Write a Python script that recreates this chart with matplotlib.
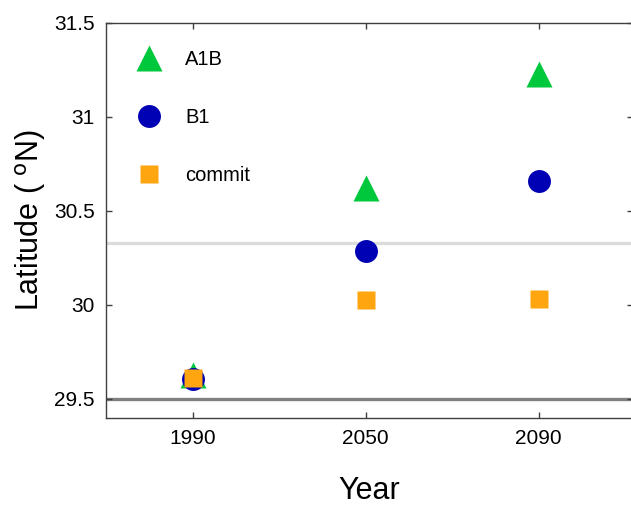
import matplotlib
matplotlib.use("Agg")
import matplotlib.pyplot as plt

plt.rcParams['font.family'] = ['Liberation Sans', 'DejaVu Sans']

years = ["1990", "2050", "2090"]
a1b = [29.625, 30.62, 31.228]
b1 = [29.607, 30.287, 30.66]
commit = [29.608, 30.027, 30.03]
ref_dark = 29.5
ref_light = 30.33

fig = plt.figure(figsize=(6.31, 5.07), dpi=100)
ax = fig.add_axes([0.1675, 0.1761, 0.8357, 0.7791])

x = list(range(1, len(years) + 1))

ax.axhline(ref_dark, color='#808080', lw=2.4, zorder=1)
ax.axhline(ref_light, color='#dcdcdc', lw=2.4, zorder=1, xmin=0.004)

ax.plot(x, a1b, ls='none', marker='^', ms=19, color='#00c83c', mec='none', label='A1B', zorder=3)
ax.plot(x, b1, ls='none', marker='o', ms=16.5, color='#0000b4', mec='none', label='B1', zorder=4)
ax.plot(x, commit, ls='none', marker='s', ms=13.5, color='#ffa510', mec='none', label='commit', zorder=5)

ax.set_xlim(0.497, 3.545)
ax.set_ylim(29.399, 31.5)
ax.set_xticks(x)
ax.set_xticklabels(years)
ax.set_yticks([29.5, 30, 30.5, 31, 31.5])
ax.set_yticklabels(['29.5', '30', '30.5', '31', '31.5'])

ax.tick_params(direction='in', length=4, width=1, color='#404040', labelsize=15,
               top=True, right=True, pad=8)
for s in ax.spines.values():
    s.set_color('#404040')
    s.set_linewidth(1.0)

ax.set_xlabel('Year', fontsize=22, labelpad=20)
ax.set_ylabel('Latitude ( $^{\\rm o}$N)', fontsize=22, labelpad=4)

leg = ax.legend(loc='upper left', frameon=False, fontsize=14.5, labelspacing=1.93,
                handlelength=1.6, handletextpad=1.0, borderaxespad=0.95,
                borderpad=0.4, numpoints=1)

fig.savefig('out.png', dpi=100)
